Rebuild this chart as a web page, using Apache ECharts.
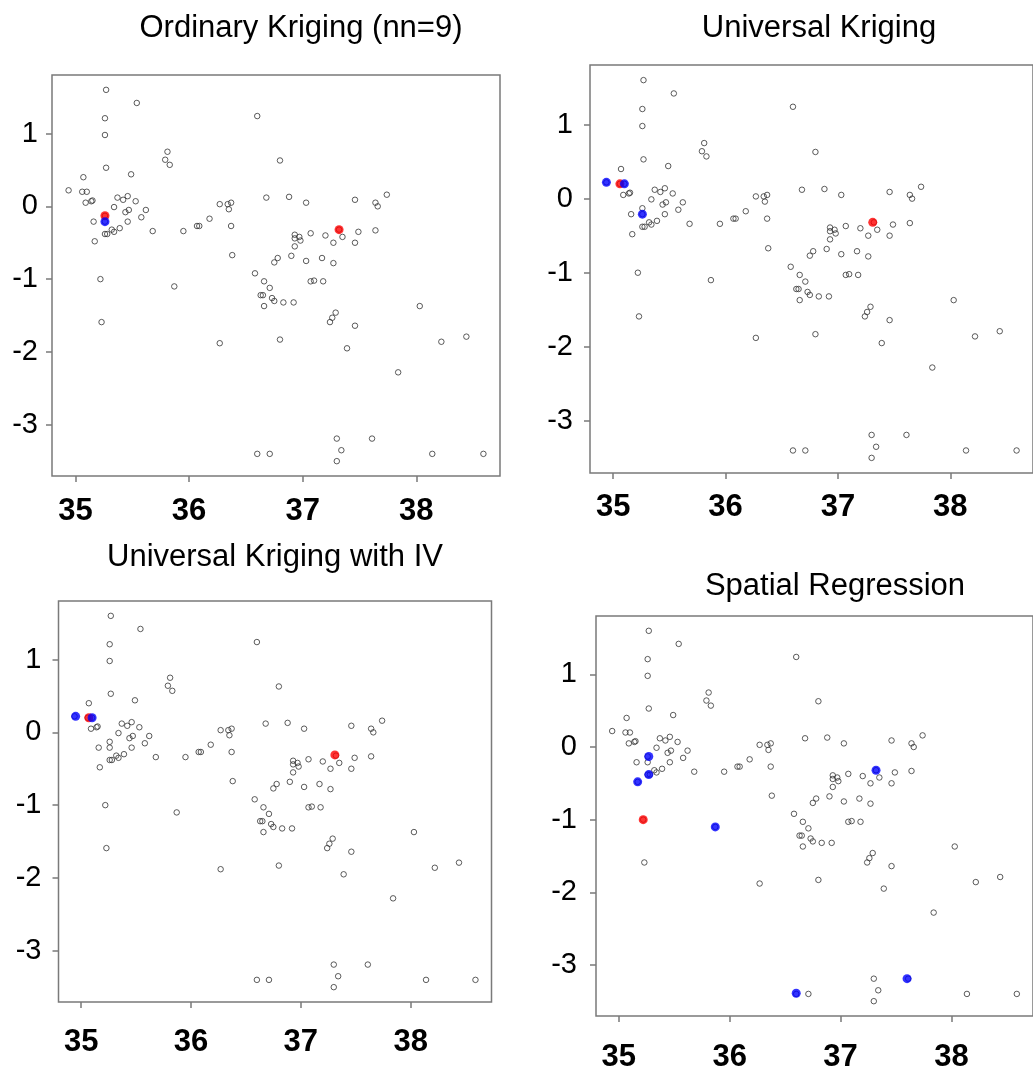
<!DOCTYPE html>
<html>
<head>
<meta charset="utf-8">
<script src="https://cdn.jsdelivr.net/npm/echarts@6/dist/echarts.min.js"></script>
<style>
html, body { margin: 0; padding: 0; background: #fff; overflow: hidden; }
#chart { width: 1033px; height: 1074px; }
</style>
</head>
<body>
<div id="chart"></div>
<script>
// Monitoring sites (x, y)
const siteX = [
  34.94, 35.07, 35.06, 35.10, 35.09, 35.14, 35.15, 35.27, 35.26, 35.26,
  35.27, 35.54, 35.49, 35.37, 35.42, 35.46, 35.53, 35.34, 35.47, 35.44,
  35.62, 35.58, 35.46, 35.16, 35.26, 35.26, 35.68, 35.39, 35.32, 35.34,
  35.26, 35.28, 35.17, 35.22, 35.23, 35.79, 35.81, 35.83, 35.95, 35.87,
  36.07, 36.09, 36.18, 36.27, 36.34, 36.37, 36.35, 36.37, 36.38, 36.27,
  36.60, 36.80, 36.68, 36.88, 37.03, 36.58, 36.66, 36.71, 36.63, 36.65,
  36.66, 36.73, 36.75, 36.83, 36.92, 36.75, 36.78, 36.90, 36.93, 36.93,
  36.93, 36.97, 36.98, 37.07, 37.03, 37.07, 37.10, 37.18, 37.17, 37.20,
  37.27, 37.27, 37.32, 37.35, 37.46, 37.46, 37.49, 37.64, 37.66, 37.64,
  37.74, 37.29, 37.26, 37.24, 37.46, 36.80, 37.39, 37.84, 38.03, 38.22,
  38.44, 37.30, 37.34, 37.30, 37.61, 36.60, 36.71, 38.14, 38.59
];
const siteY = [
   0.22,  0.40,  0.20,  0.20,  0.05,  0.07,  0.08,  1.60,  1.21,  0.98,
   0.53,  1.42,  0.44,  0.12,  0.09,  0.14,  0.07, -0.01, -0.05, -0.08,
  -0.05, -0.15, -0.21, -0.21, -0.13, -0.21, -0.34, -0.30, -0.32, -0.35,
  -0.38, -0.38, -0.48, -1.00, -1.59,  0.64,  0.75,  0.57, -0.34, -1.10,
  -0.27, -0.27, -0.17,  0.03,  0.03,  0.05, -0.04, -0.27, -0.67, -1.88,
   1.24,  0.63,  0.12,  0.13,  0.05, -0.92, -1.03, -1.12, -1.22, -1.22,
  -1.37, -1.26, -1.30, -1.32, -1.32, -0.77, -0.71, -0.68, -0.39, -0.44,
  -0.55, -0.42, -0.47, -0.37, -0.75, -1.03, -1.02, -1.03, -0.71, -0.40,
  -0.50, -0.78, -0.32, -0.42,  0.09, -0.50, -0.35,  0.05,  0.00, -0.33,
   0.16, -1.46, -1.53, -1.59, -1.64, -1.83, -1.95, -2.28, -1.37, -1.86,
  -1.79, -3.19, -3.35, -3.50, -3.19, -3.40, -3.40, -3.40, -3.40
];

// Target (red) and neighbour (blue) sites for each method
const okTarget     = [[35.26, -0.13], [37.32, -0.32]];
const okNeighbors  = [[35.26, -0.21]];
const ukTarget     = [[35.06, 0.20], [37.31, -0.32]];
const ukNeighbors  = [[34.94, 0.22], [35.10, 0.20], [35.26, -0.21]];
const ukivTarget   = [[35.07, 0.20], [37.31, -0.31]];
const ukivNeighbors= [[34.95, 0.22], [35.10, 0.20]];
const srTarget     = [[35.22, -1.00]];
const srNeighbors  = [[35.27, -0.13], [35.27, -0.38], [35.17, -0.48], [35.87, -1.10],
                      [37.32, -0.32], [36.60, -3.39], [37.60, -3.19]];

const panelTitles = ['Ordinary Kriging (nn=9)', 'Universal Kriging',
                     'Universal Kriging with IV', 'Spatial Regression'];
const xTicks = [35, 36, 37, 38];
const yTicks = [-3, -2, -1, 0, 1];

// Axis limits padded 4% beyond the data extent
const xMin = 34.794, xMax = 38.736;
const yMin = -3.704, yMax = 1.804;

// Panel layout
const layout = [
  { grid: { left: 52,   top: 75,  width: 448, height: 401 }, tx: 301, ty: 28,  xm: 20, ym: 14 },
  { grid: { left: 590,  top: 65,  width: 446, height: 408 }, tx: 819, ty: 28,  xm: 19, ym: 17 },
  { grid: { left: 58.5, top: 601, width: 433, height: 401 }, tx: 275, ty: 557, xm: 25, ym: 17 },
  { grid: { left: 596,  top: 616, width: 448, height: 400 }, tx: 835, ty: 586, xm: 26, ym: 19 }
];
const targets = [okTarget, ukTarget, ukivTarget, srTarget];
const neighbors = [okNeighbors, ukNeighbors, ukivNeighbors, srNeighbors];

const sites = siteX.map((x, i) => [x, siteY[i]]);
const FONT = '"Liberation Sans", Arial, Helvetica, sans-serif';
const frameColor = '#7a7a7a';

const grids = [], xAxes = [], yAxes = [], series = [], graphics = [];
layout.forEach((p, i) => {
  grids.push(Object.assign({ show: true, borderColor: frameColor, borderWidth: 1.5,
                             backgroundColor: '#fff' }, p.grid));
  xAxes.push({
    type: 'value', gridIndex: i, min: xMin, max: xMax, position: 'bottom',
    splitLine: { show: false },
    axisLine: { show: false, onZero: false },
    axisTick: { show: true, length: 6, customValues: xTicks,
                lineStyle: { color: frameColor, width: 1.5 } },
    axisLabel: { customValues: xTicks, margin: p.xm, color: '#000',
                 fontFamily: FONT, fontSize: 31, fontWeight: 'bold' }
  });
  yAxes.push({
    type: 'value', gridIndex: i, min: yMin, max: yMax, position: 'left',
    splitLine: { show: false },
    axisLine: { show: false, onZero: false },
    axisTick: { show: true, length: 6, customValues: yTicks,
                lineStyle: { color: frameColor, width: 1.5 } },
    axisLabel: { customValues: yTicks, margin: p.ym, color: '#000',
                 fontFamily: FONT, fontSize: 29 }
  });
  series.push({
    type: 'scatter', xAxisIndex: i, yAxisIndex: i, data: sites,
    symbol: 'circle', symbolSize: 5.5, silent: true,
    itemStyle: { color: 'rgba(0,0,0,0)', borderColor: '#333', borderWidth: 1 }
  });
  series.push({
    type: 'scatter', xAxisIndex: i, yAxisIndex: i, data: targets[i],
    symbol: 'circle', symbolSize: 9, silent: true,
    itemStyle: { color: '#ff0000' }
  });
  series.push({
    type: 'scatter', xAxisIndex: i, yAxisIndex: i, data: neighbors[i],
    symbol: 'circle', symbolSize: 9, silent: true,
    itemStyle: { color: '#0000ff' }
  });
  graphics.push({
    type: 'text', x: p.tx, y: p.ty, silent: true,
    style: { text: panelTitles[i], fill: '#000', font: '31px ' + FONT,
             align: 'center', verticalAlign: 'middle' }
  });
});

const chart = echarts.init(document.getElementById('chart'), null, { renderer: 'canvas' });
chart.setOption({
  animation: false,
  backgroundColor: '#fff',
  grid: grids,
  xAxis: xAxes,
  yAxis: yAxes,
  series: series,
  graphic: graphics
});
</script>
</body>
</html>
